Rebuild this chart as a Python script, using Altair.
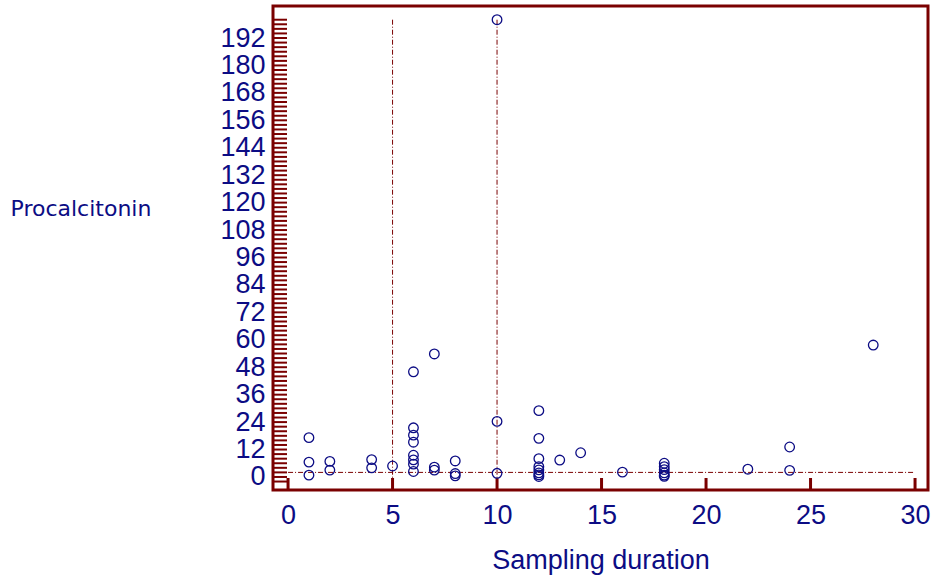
import altair as alt
import pandas as pd

# ---- data ----
duration = [1, 1, 1,
            2, 2,
            4, 4,
            5,
            6, 6, 6, 6, 6, 6, 6, 6,
            7, 7, 7,
            8, 8, 8,
            10, 10, 10,
            12, 12, 12, 12, 12, 12, 12, 12,
            13, 14, 16,
            18, 18, 18, 18, 18, 18,
            22, 24, 24, 28]
procalcitonin = [17.2, 6.5, 0.8,
                 6.8, 3.0,
                 7.6, 4.0,
                 4.8,
                 46.0, 21.5, 18.3, 15.2, 9.5, 7.5, 5.6, 2.4,
                 53.8, 4.3, 3.0,
                 7.0, 1.5, 0.5,
                 200.0, 24.3, 1.6,
                 29.0, 16.9, 8.0, 4.5, 3.1, 1.8, 0.9, 0.2,
                 7.4, 10.6, 2.1,
                 6.0, 4.5, 3.2, 1.8, 0.8, 0.3,
                 3.4, 13.1, 2.9, 57.7]

x_tick_labels = [0, 5, 10, 15, 20, 25, 30]
y_tick_labels = list(range(0, 193, 12))
y_minor_ticks = list(range(-2, 201, 2))
ref_x = [5, 10]          # vertical reference lines
ref_x_top = [200, 200]
ref_y = [2]              # horizontal reference line
ref_y_from = [0]
ref_y_to = [30]

X_DOMAIN = [-0.72, 30.62]
Y_DOMAIN = [-5.7, 206.0]

NAVY = "#0c0c84"
DARKRED = "#7a0000"
W, H = 655, 484

pts = pd.DataFrame({"x": duration, "y": procalcitonin})
xt = pd.DataFrame({"x": x_tick_labels})
yt = pd.DataFrame({"y": y_minor_ticks})
vref = pd.DataFrame({"x": ref_x, "y": ref_x_top, "y2": [Y_DOMAIN[0]] * len(ref_x)})
href = pd.DataFrame({"y": ref_y, "x": ref_y_from, "x2": ref_y_to})

xsc = alt.Scale(domain=X_DOMAIN, nice=False, zero=False)
ysc = alt.Scale(domain=Y_DOMAIN, nice=False, zero=False)

xaxis = alt.Axis(values=x_tick_labels, title="Sampling duration",
                 titleFont="Liberation Sans", titleFontSize=27, titleFontWeight="normal",
                 titleColor=NAVY, titleY=78, titleBaseline="alphabetic",
                 labelFont="Liberation Sans", labelFontSize=27, labelColor=NAVY,
                 labelPadding=12, labelFlush=False, labelOverlap=False,
                 ticks=False, domain=False, grid=False)
yaxis = alt.Axis(values=y_tick_labels, title="Procalcitonin",
                 titleAngle=0, titleAlign="left", titleBaseline="middle",
                 titleX=-263, titleY=202,
                 titleFont="DejaVu Sans", titleFontSize=22, titleFontWeight="normal",
                 titleColor=NAVY,
                 labelFont="Liberation Sans", labelFontSize=27, labelColor=NAVY,
                 labelPadding=8, labelFlush=False, labelOverlap=False,
                 ticks=False, domain=False, grid=False)

X = lambda f: alt.X(f, type="quantitative", scale=xsc, axis=xaxis)
Y = lambda f: alt.Y(f, type="quantitative", scale=ysc, axis=yaxis)

dash = [5, 2, 1, 2]

vlines = alt.Chart(vref).mark_rule(color=DARKRED, strokeWidth=1, strokeDash=dash).encode(
    x=X("x"), y=Y("y"), y2="y2:Q")
hline = alt.Chart(href).mark_rule(color=DARKRED, strokeWidth=1, strokeDash=dash).encode(
    y=Y("y"), x=X("x"), x2="x2:Q")
yticks = alt.Chart(yt).mark_rule(color=DARKRED, strokeWidth=2).encode(
    y=Y("y"), x=alt.value(0), x2=alt.value(14))
xticks = alt.Chart(xt).mark_rule(color=DARKRED, strokeWidth=3).encode(
    x=X("x"), y=alt.value(H - 12), y2=alt.value(H))
points = alt.Chart(pts).mark_point(shape="circle", filled=False, color=NAVY,
                                   size=92, strokeWidth=1.3, opacity=1).encode(
    x=X("x"), y=Y("y"))

chart = alt.layer(vlines, hline, yticks, xticks, points).properties(
    width=W, height=H,
    autosize=alt.AutoSizeParams(type="none"),
    padding={"left": 273, "top": 6, "right": 5, "bottom": 89},
    background="white",
).configure_view(stroke=DARKRED, strokeWidth=3)

chart.save("out.html", embed_options={"renderer": "svg", "actions": False})
